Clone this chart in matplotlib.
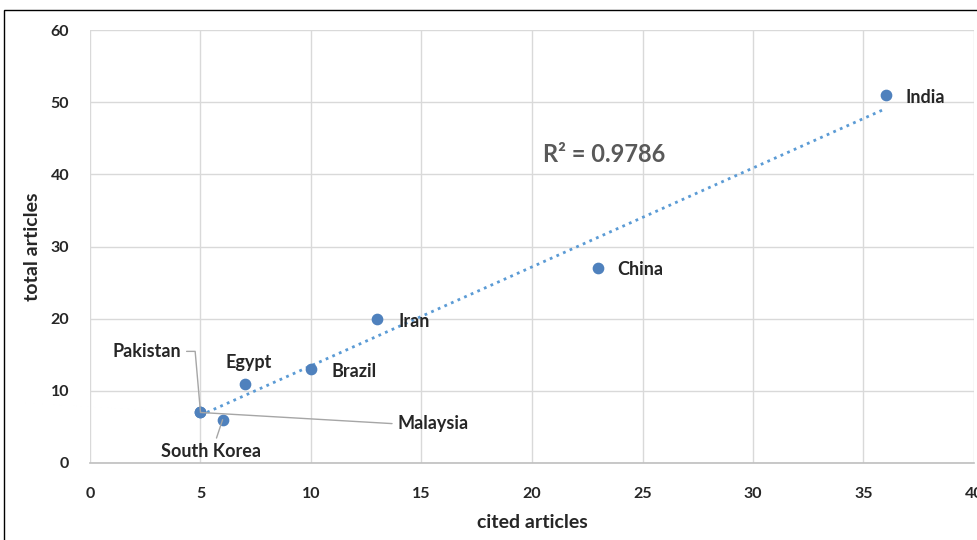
import numpy as np
import matplotlib
matplotlib.use('Agg')
import matplotlib.pyplot as plt
from matplotlib.patches import Rectangle

countries = ['India', 'China', 'Iran', 'Brazil', 'Egypt', 'Pakistan', 'Malaysia', 'South Korea']
cited = [36, 23, 13, 10, 7, 5, 5, 6]
total = [51, 27, 20, 13, 11, 7, 7, 6]
r2_text = 'R² = 0.9786'

plt.rcParams['font.family'] = ['Lato', 'DejaVu Sans']

fig = plt.figure(figsize=(9.78, 5.4), dpi=100)
ax = fig.add_axes([90/978, 77/540, 884/978, 433/540])

# chart border (runs off the right and bottom edge)
fig.patches.append(Rectangle((4/978, -0.2), 1.5, (530/540) + 0.2, transform=fig.transFigure,
                             fill=False, edgecolor='black', linewidth=1.0))

ax.set_xlim(0, 40)
ax.set_ylim(0, 60)
ax.set_xticks(range(0, 41, 5))
ax.set_yticks(range(0, 61, 10))
ax.grid(True, color='#d9d9d9', linewidth=1.0)
ax.set_axisbelow(True)
for s in ['top', 'right', 'left']:
    ax.spines[s].set_visible(False)
ax.spines['bottom'].set_color('#bfbfbf')
ax.spines['bottom'].set_linewidth(1.2)
ax.tick_params(length=0, labelsize=11.5, colors='#262626')
ax.tick_params(axis='x', pad=17)
ax.tick_params(axis='y', pad=15)
for lab in ax.get_xticklabels() + ax.get_yticklabels():
    lab.set_fontweight('bold')

# linear trendline over the data range
slope, intercept = np.polyfit(cited, total, 1)
xs = np.array([min(cited), max(cited)])
ax.plot(xs, slope * xs + intercept, linestyle=(0, (1, 1.6)), color='#5b9bd5', linewidth=2.0, zorder=2)

ax.scatter(cited, total, s=55, color='#4f81bd', zorder=3)

lab_kw = dict(fontsize=13, fontweight='bold', color='#262626')
line_kw = dict(arrowstyle='-', color='#a6a6a6', linewidth=1.0, shrinkA=0, shrinkB=0)

offsets = {
    'India': (14, -2, 'left'),
    'China': (14, -1, 'left'),
    'Iran': (15, -2, 'left'),
    'Brazil': (15, -2, 'left'),
    'Egypt': (3, 15, 'center'),
}
for name, x, y in zip(countries, cited, total):
    if name in offsets:
        dx, dy, ha = offsets[name]
        ax.annotate(name, (x, y), xytext=(dx, dy), textcoords='offset points',
                    ha=ha, va='center', **lab_kw)

# labels with leader lines
i = countries.index('Pakistan')
ax.annotate('Pakistan', (cited[i], total[i]), xytext=(-14, 44), textcoords='offset points',
            ha='right', va='center', **lab_kw)
ax.annotate('', (cited[i], total[i]), xytext=(-10, 44), textcoords='offset points',
            arrowprops=dict(line_kw, connectionstyle='angle,angleA=0,angleB=95,rad=0'))

i = countries.index('Malaysia')
ax.annotate('Malaysia', (cited[i], total[i]), xytext=(142, -8), textcoords='offset points',
            ha='left', va='center',
            arrowprops=dict(line_kw, relpos=(-0.08, 0.5)), **lab_kw)

i = countries.index('South Korea')
ax.annotate('South Korea', (cited[i], total[i]), xytext=(-8, -23), textcoords='offset points',
            ha='center', va='center',
            arrowprops=dict(line_kw, relpos=(0.55, 1.3)), **lab_kw)

ax.text(20.5, 42.7, r2_text, fontsize=17, fontweight='bold', color='#595959', ha='left', va='center')

ax.set_xlabel('cited articles', fontsize=14, fontweight='bold', color='#262626', labelpad=10)
ax.set_ylabel('total articles', fontsize=14, fontweight='bold', color='#262626', labelpad=7)

fig.savefig('out.png', dpi=100, facecolor='white')
